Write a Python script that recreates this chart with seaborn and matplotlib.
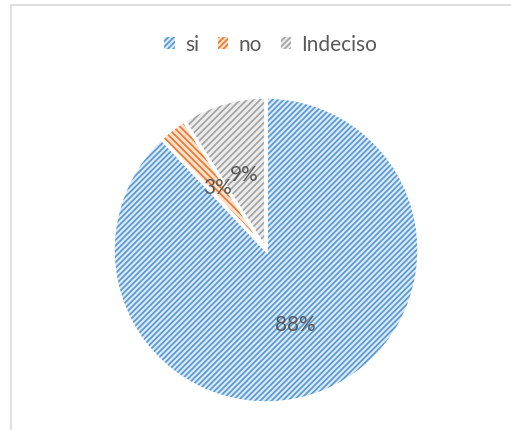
import matplotlib
matplotlib.use("Agg")
import matplotlib.pyplot as plt
import matplotlib.patches as mpatches
from matplotlib.lines import Line2D
import seaborn as sns

categories = ["si", "no", "Indeciso"]
values = [88, 3, 9]
labels_pct = ["88%", "3%", "9%"]

sns.set_theme(style="white")
plt.rcParams['font.family'] = ['Lato', 'DejaVu Sans']
plt.rcParams['hatch.linewidth'] = 1.3

line_colors = ["#5B9BD5", "#ED7D31", "#A5A5A5"]
face_colors = ["#DDEBF7", "#FBE2D1", "#EDEDED"]
hatches = ["//////", "\\\\\\\\\\", "/////"]
text_color = "#595959"

W, H = 511, 431
fig = plt.figure(figsize=(W / 100, H / 100), dpi=100)
cx, cy, r = 266, 251, 153
ax = fig.add_axes([(cx - r) / W, (H - cy - r) / H, 2 * r / W, 2 * r / H])

wedges, _ = ax.pie(values, startangle=90, counterclock=False,
                   colors=face_colors, wedgeprops=dict(linewidth=0))
for w, lc, h in zip(wedges, line_colors, hatches):
    w.set_edgecolor(lc)
    w.set_hatch(h)
    w.set_linewidth(0)

wedges2, texts, autotexts = ax.pie(values, startangle=90, counterclock=False,
                                   labels=None, autopct="%1.0f%%", pctdistance=0.52,
                                   wedgeprops=dict(facecolor="none", edgecolor="white", linewidth=2.5),
                                   textprops=dict(color=text_color, fontsize=15))
for t, s in zip(autotexts, labels_pct):
    t.set_text(s)
ax.set_xlim(-1, 1)
ax.set_ylim(-1, 1)
ax.set_aspect("equal")
ax.axis("off")

handles = [mpatches.Patch(facecolor=fc, edgecolor=lc, hatch="//////", linewidth=0)
           for fc, lc in zip(face_colors, line_colors)]
leg = fig.legend(handles, categories, loc="center", bbox_to_anchor=(0.53, 1 - 45 / H),
                 ncol=3, frameon=False, fontsize=15, handlelength=0.5, handleheight=0.5,
                 handletextpad=0.5, columnspacing=0.9)
for t in leg.get_texts():
    t.set_color(text_color)

fig.add_artist(Line2D([10.5 / W, 1], [1 - 5.5 / H, 1 - 5.5 / H], color="#D9D9D9", lw=1.2,
                      transform=fig.transFigure))
fig.add_artist(Line2D([10.5 / W, 10.5 / W], [0, 1 - 5.5 / H], color="#D9D9D9", lw=1.2,
                      transform=fig.transFigure))

fig.savefig("out.png", dpi=100, facecolor="white")
